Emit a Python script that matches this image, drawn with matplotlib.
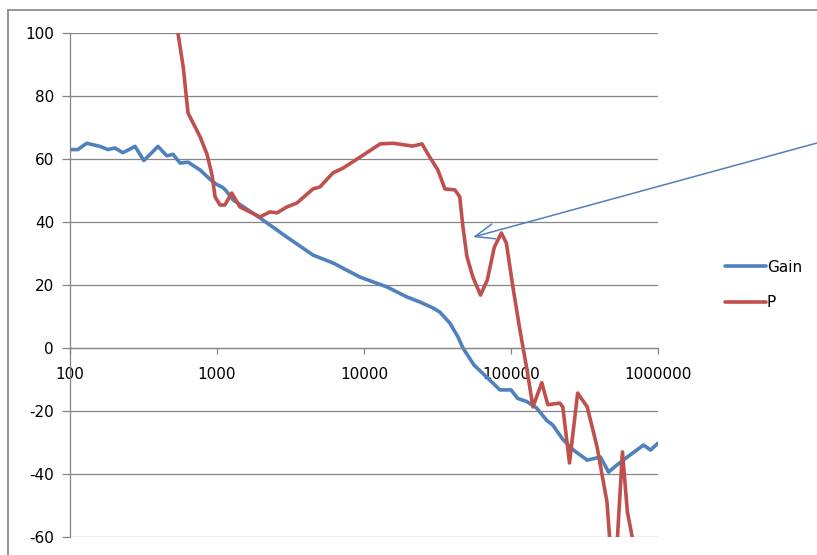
import matplotlib
matplotlib.use("Agg")
import matplotlib.pyplot as plt
import matplotlib.ticker as mticker
from matplotlib.lines import Line2D

# frequency (Hz) and values
gain_freq = [100, 113, 130, 160, 181, 202, 229, 277, 318, 397, 456, 502,
             561, 635, 768, 900, 990, 1090, 1140, 1288, 1960, 2990, 4500,
             6150, 9400, 14300, 19600, 24000, 29500, 32800, 38400, 43600,
             47100, 56000, 71000, 84000, 100000, 111000, 128000, 149000,
             175000, 192000, 225000, 266000, 330000, 406000, 461000, 530000,
             619000, 797000, 890000, 1000000]
gain_val = [63, 63, 65, 64, 63, 63.5, 62, 64, 59.5, 64, 61, 61.5,
            58.7, 59, 56.5, 53.5, 52, 51, 50.2, 47, 41.3, 35.2, 29.5,
            27, 22.5, 19.4, 16.2, 14.6, 12.7, 11.4, 7.9, 3.5,
            0, -5.4, -10, -13.3, -13.3, -16, -17, -19,
            -23, -24.4, -29, -32.4, -35.6, -34.6, -39.4, -37,
            -34.6, -30.8, -32.4, -30.2]

p_freq = [526, 590, 635, 731, 768, 855, 924, 970, 1048, 1131, 1260, 1430,
          1960, 2290, 2560, 2990, 3490, 4500, 5010, 6150, 7200, 9400, 12900,
          15800, 21400, 24800, 28000, 31800, 35500, 41500, 44800, 47100,
          50200, 55100, 62000, 69000, 77000, 86000, 93000, 103000, 115000,
          128000, 141000, 162000, 178000, 215000, 225000, 250000, 284000,
          330000, 385000, 450000, 470000, 500000, 530000, 573000, 619000,
          680000, 755000]
p_val = [104, 89, 74.6, 69, 67, 61.5, 55, 48, 45.4, 45.4, 49.2, 44.8,
         41.6, 43.2, 42.9, 44.8, 46, 50.5, 51.1, 55.6, 57.1, 60.6, 64.8,
         65, 64.1, 64.8, 60.6, 56.5, 50.5, 50.2, 48, 38.4,
         28.9, 22.5, 16.8, 21.6, 32, 36.5, 33.3, 19.4, 5.7,
         -6.5, -18.7, -11, -18, -17.5, -18.7, -36.5, -14.3,
         -18.7, -31.4, -49, -61, -75, -60, -33, -52,
         -62, -75]

gain_color = "#4F81BD"
p_color = "#C0504D"
grid_color = "#868686"

plt.rcParams["font.family"] = ["DejaVu Sans"]
plt.rcParams["axes.unicode_minus"] = False

fig = plt.figure(figsize=(8.17, 5.55), dpi=100)
ax = fig.add_axes([70 / 817, 1 - 537 / 555, 588 / 817, 504 / 555])

ax.plot(gain_freq, gain_val, color=gain_color, lw=2.6, label="Gain",
        solid_joinstyle="round", solid_capstyle="round")
ax.plot(p_freq, p_val, color=p_color, lw=2.6, label="P",
        solid_joinstyle="round", solid_capstyle="round")

ax.set_xscale("log")
ax.set_xlim(100, 1000000)
ax.set_ylim(-60, 100)
ax.set_yticks(range(-60, 101, 20))
ax.xaxis.set_major_locator(mticker.LogLocator(base=10, numticks=10))
ax.xaxis.set_minor_locator(mticker.NullLocator())
ax.xaxis.set_major_formatter(mticker.FuncFormatter(lambda v, p: "%d" % round(v)))

ax.grid(axis="y", color=grid_color, lw=0.9)
ax.set_axisbelow(True)
for s in ["top", "right"]:
    ax.spines[s].set_visible(False)
ax.spines["bottom"].set_position(("data", 0))
ax.spines["bottom"].set_color(grid_color)
ax.spines["left"].set_color(grid_color)
ax.spines["bottom"].set_linewidth(0.9)
ax.spines["left"].set_linewidth(0.9)
ax.tick_params(axis="y", length=5.5, width=0.9, color=grid_color, pad=6,
               labelsize=11, labelcolor="#000000")
ax.tick_params(axis="x", length=4, width=0.9, color=grid_color, pad=10,
               labelsize=11, labelcolor="#000000")

ax.legend(loc="center left", bbox_to_anchor=(1.09, 0.500), frameon=False,
          fontsize=11, handlelength=2.7, handletextpad=0.05, labelspacing=1.35)

# annotation arrow pointing at the dip
ax.annotate("", xy=(55100, 35.2), xycoords="data",
            xytext=(1.0, 1 - 143 / 555), textcoords="figure fraction",
            arrowprops=dict(arrowstyle="->,head_length=1.4,head_width=0.55",
                            color=gain_color, lw=1.1, shrinkA=0, shrinkB=0),
            annotation_clip=False)

# chart area border
fig.add_artist(Line2D([8 / 817, 8 / 817], [0, 1 - 10 / 555],
                      transform=fig.transFigure, color="#8C8C8C", lw=1.3))
fig.add_artist(Line2D([8 / 817, 1], [1 - 10 / 555, 1 - 10 / 555],
                      transform=fig.transFigure, color="#8C8C8C", lw=1.3))

fig.savefig("out.png", dpi=100)
